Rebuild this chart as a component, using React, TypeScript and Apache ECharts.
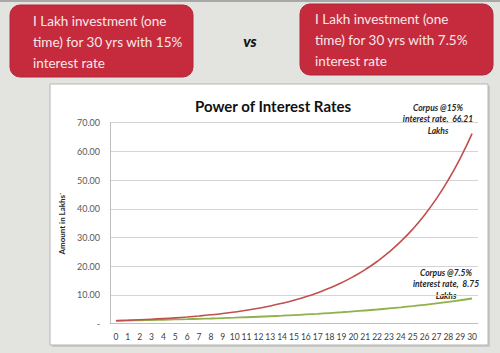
import React, { useEffect, useRef } from "react";
import * as echarts from "echarts";

const years: string[] = [
  "0","1","2","3","4","5","6","7","8","9","10","11","12","13","14","15",
  "16","17","18","19","20","21","22","23","24","25","26","27","28","29","30",
];

const corpus15: number[] = [
  1.0, 1.15, 1.32, 1.52, 1.75, 2.01, 2.31, 2.66, 3.06, 3.52, 4.05, 4.65, 5.35,
  6.15, 7.08, 8.14, 9.36, 10.76, 12.38, 14.23, 16.37, 18.82, 21.64, 24.89,
  28.63, 32.92, 37.86, 43.54, 50.07, 57.58, 66.21,
];

const corpus75: number[] = [
  1.0, 1.08, 1.16, 1.24, 1.34, 1.44, 1.54, 1.66, 1.78, 1.92, 2.06, 2.22, 2.38,
  2.56, 2.75, 2.96, 3.18, 3.42, 3.68, 3.95, 4.25, 4.57, 4.91, 5.28, 5.67,
  6.1, 6.56, 7.05, 7.58, 8.14, 8.75,
];

const leftBoxText = "I Lakh investment (one\ntime) for 30 yrs with 15%\ninterest rate";
const rightBoxText = "I Lakh investment (one\ntime) for 30 yrs with 7.5%\ninterest rate";
const note15 = "Corpus @15%\ninterest rate,  66.21\nLakhs";
const note75 = "Corpus @7.5%\ninterest rate,  8.75\nLakhs";

export default function App() {
  const ref = useRef<HTMLDivElement>(null);

  useEffect(() => {
    document.body.style.margin = "0";
    const chart = echarts.init(ref.current!, null, { renderer: "svg" });
    const boxStyle = { fill: "#c52b3d", stroke: "#b3263a", lineWidth: 1 };
    const boxFont = {
      fill: "#f9e8e8",
      fontFamily: "Lato",
      fontSize: 13.5,
      lineHeight: 21,
      textVerticalAlign: "top",
    };
    const noteFont = {
      fill: "#262626",
      fontFamily: "Lato",
      fontSize: 8.5,
      fontWeight: "bold",
      fontStyle: "italic",
      lineHeight: 11.5,
      textAlign: "center",
      textVerticalAlign: "top",
    };
    chart.setOption({
      animation: false,
      backgroundColor: "#e3e3e0",
      textStyle: { fontFamily: "Lato" },
      title: {
        text: "Power of Interest Rates",
        left: 190,
        top: 93,
        textStyle: { fontSize: 15, fontWeight: "bold", color: "#111", fontFamily: "Lato" },
      },
      graphic: [
        { type: "rect", z: -10, shape: { x: 0, y: 0, width: 500, height: 2 }, style: { fill: "#a8a8a8" } },
        { type: "rect", z: -10, shape: { x: 52, y: 86, width: 438, height: 261 }, style: { fill: "#c9c9c6" } },
        { type: "rect", z: -9, shape: { x: 50, y: 84, width: 438, height: 261 }, style: { fill: "#ffffff", stroke: "#b5b5b5", lineWidth: 1 } },
        { type: "rect", shape: { x: 10, y: 5, width: 183, height: 72, r: 10 }, style: boxStyle },
        { type: "rect", shape: { x: 300, y: 4, width: 193, height: 71, r: 10 }, style: boxStyle },
        { type: "text", x: 33, y: 10.5, style: { text: leftBoxText, ...boxFont } },
        { type: "text", x: 315, y: 8.5, style: { text: rightBoxText, ...boxFont } },
        {
          type: "text", x: 250, y: 41,
          style: { text: "vs", fill: "#111", fontFamily: "Lato", fontSize: 15, fontWeight: "900", fontStyle: "italic", textAlign: "center", textVerticalAlign: "middle" },
        },
        { type: "text", x: 438, y: 102, style: { text: note15, ...noteFont } },
        { type: "text", x: 446, y: 267, style: { text: note75, ...noteFont } },
      ],
      grid: { left: 110, right: 22, top: 122.7, bottom: 29.4 },
      xAxis: {
        type: "category",
        data: years,
        boundaryGap: true,
        axisLine: { show: true, lineStyle: { color: "#bfbfbf" } },
        axisTick: { show: false },
        axisLabel: { color: "#404040", fontSize: 8.5, margin: 9, interval: 0, fontFamily: "Lato" },
      },
      yAxis: {
        type: "value",
        min: 0,
        max: 70,
        interval: 10,
        name: "Amount in Lakhs`",
        nameLocation: "middle",
        nameGap: 40,
        nameTextStyle: { fontSize: 8, fontWeight: "bold", color: "#262626", fontFamily: "Lato" },
        axisLine: { show: true, lineStyle: { color: "#bfbfbf" } },
        axisTick: { show: false },
        splitLine: { lineStyle: { color: "#d4d4d4" } },
        axisLabel: {
          color: "#595959",
          fontSize: 9,
          margin: 10,
          fontFamily: "Lato",
          formatter: (v: number) => (v === 0 ? "-" : v.toFixed(2)),
        },
      },
      series: [
        {
          type: "line",
          data: corpus15,
          symbol: "none",
          smooth: true,
          lineStyle: { color: "#c0504d", width: 1.6 },
          z: 3,
        },
        {
          type: "line",
          data: corpus75,
          symbol: "none",
          smooth: true,
          lineStyle: { color: "#8fb24a", width: 1.8 },
          z: 2,
        },
      ],
    });
    return () => chart.dispose();
  }, []);

  return <div ref={ref} style={{ width: 500, height: 353 }} />;
}
